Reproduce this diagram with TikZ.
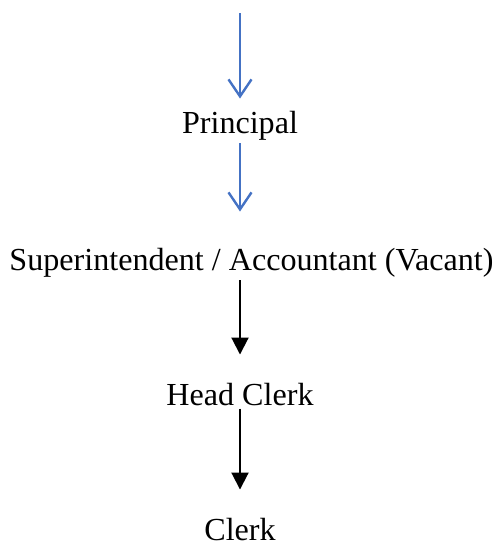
\documentclass[tikz,border=0pt]{standalone}
\usepackage{fontspec}
\setmainfont{Liberation Serif}
\usetikzlibrary{arrows.meta}
\definecolor{officeblue}{RGB}{68,114,196}
\begin{document}
\begin{tikzpicture}[x=1pt,y=-1pt,
  lbl/.style={inner sep=0pt,anchor=base,font=\fontsize{32.1}{36}\selectfont},
  bluearrow/.style={draw=officeblue,line width=2.2pt,-{Straight Barb[length=17pt,width=23pt,line width=2.4pt]}},
  blackarrow/.style={draw=black,line width=2pt,-{Triangle[length=17pt,width=17pt]}}]
\useasboundingbox (0,0) rectangle (499,546);
\coordinate (top) at (240,13);
\node[lbl] (p) at (240,133) {Principal};
\node[lbl] (s) at (251.5,270) {Superintendent / Accountant (Vacant)};
\node[lbl] (h) at (240,405) {Head Clerk};
\node[lbl] (c) at (240,540) {Clerk};
\draw[bluearrow,shorten >=12pt] (top) -- (p.north);
\draw[bluearrow,shorten <=3pt,shorten >=36pt] (p.south) -- (s.north -| p.south);
\draw[blackarrow,shorten <=3pt,shorten >=28pt] (s.south -| p.south) -- (h.north);
\draw[blackarrow,shorten <=3pt,shorten >=28pt] (h.south -| p.south) -- (c.north);
\end{tikzpicture}
\end{document}
